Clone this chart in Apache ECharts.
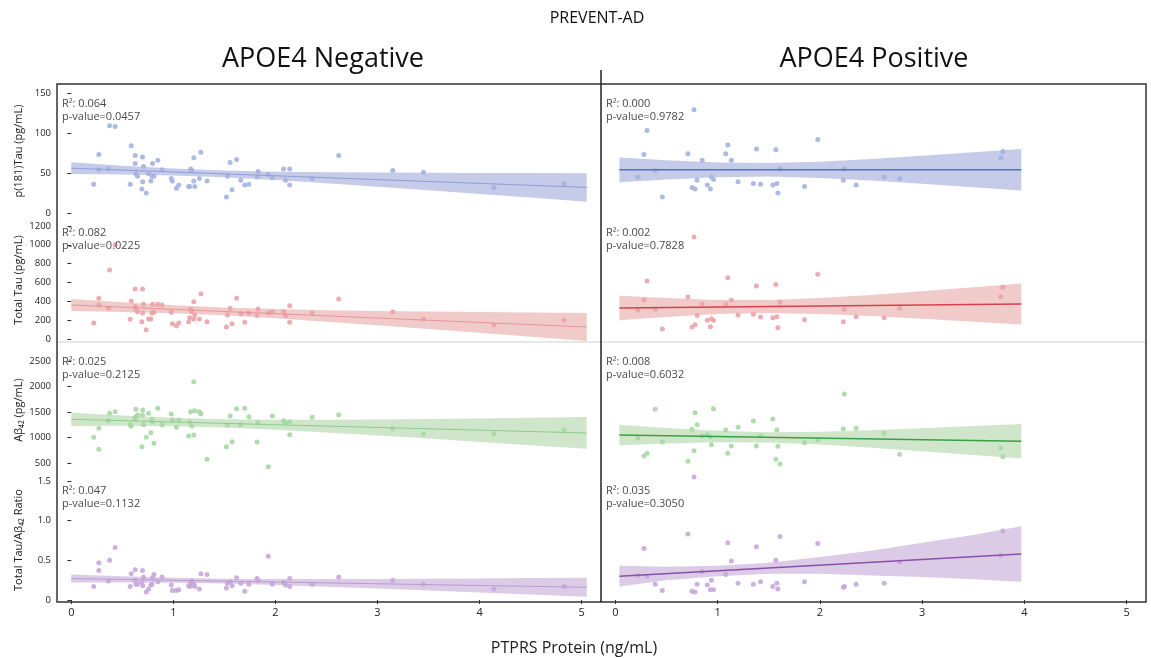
<!DOCTYPE html>
<html>
<head>
<meta charset="utf-8">
<script src="https://cdn.jsdelivr.net/npm/echarts@6.0.0/dist/echarts.min.js"></script>
<style>
html,body{margin:0;padding:0;background:#fff;}
#chart{width:1151px;height:658px;}
</style>
</head>
<body>
<div id="chart"></div>
<script>
// ---------- DATA ----------
const rowNames = ['p(181)Tau (pg/mL)', 'Total Tau (pg/mL)', 'Aβ₄₂ (pg/mL)', 'Total Tau/Aβ₄₂ Ratio'];
const colTitles = ['APOE4 Negative', 'APOE4 Positive'];
const xTicks = [0, 1, 2, 3, 4, 5];
const yTicksPTau = [0, 50, 100, 150];
const yTicksTau = [0, 200, 400, 600, 800, 1000, 1200];
const yTicksAb = [500, 1000, 1500, 2000, 2500];
const yTicksRatio = [0, 0.5, 1.0, 1.5];

const r2Neg = ['0.064', '0.082', '0.025', '0.047'];
const pNeg = ['0.0457', '0.0225', '0.2125', '0.1132'];
const r2Pos = ['0.000', '0.002', '0.008', '0.035'];
const pPos = ['0.9782', '0.7828', '0.6032', '0.3050'];

// APOE4 negative subjects: PTPRS protein
const xNeg = [0.22, 0.27, 0.27, 0.365, 0.375, 0.43, 0.577, 0.587, 0.626, 0.626,
  0.633, 0.649, 0.692, 0.70, 0.698, 0.708, 0.734, 0.757, 0.78, 0.79,
  0.796, 0.81, 0.848, 0.89, 0.98, 0.99, 1.03, 1.053, 1.15, 1.16,
  1.17, 1.18, 1.20, 1.20, 1.21, 1.255, 1.27, 1.33, 1.52, 1.53,
  1.556, 1.575, 1.62, 1.66, 1.70, 1.74, 1.82, 1.83, 1.93, 1.97,
  2.08, 2.10, 2.14, 2.14, 2.36, 2.62, 3.15, 3.45, 4.14, 4.83];
const pTauNeg = [36, 73, 54, 55, 109, 108, 36, 84, 72, 62,
  49, 46, 30, 39, 70, 58, 25, 49, 40, 46,
  62, 46, 66, 54, 43, 40, 31, 35, 33, 33,
  55, 53, 69, 40, 33, 43, 76, 40, 20, 46,
  63, 29, 67, 41, 35, 36, 45, 52, 48, 44,
  55, 41, 55, 35, 43, 72, 53, 51, 32, 37];
const tauNeg = [170, 432, 361, 326, 732, 1000, 209, 403, 531, 343,
  308, 290, 184, 276, 531, 368, 99, 212, 212, 276,
  368, 283, 368, 361, 283, 163, 141, 170, 184, 226,
  318, 290, 396, 212, 255, 212, 481, 184, 127, 255,
  326, 163, 432, 268, 177, 276, 248, 318, 276, 290,
  290, 248, 354, 177, 276, 425, 290, 212, 149, 198];
const abNeg = [1008, 1183, 773, 1332, 1477, 1508, 1254, 1230, 1398, 1359,
  1555, 1443, 824, 1541, 1443, 1254, 1008, 1477, 1098, 1359,
  1313, 891, 1574, 1248, 1463, 1346, 1203, 1346, 1033, 1307,
  1508, 1229, 2094, 1053, 1527, 1508, 1463, 578, 824, 1242,
  1424, 922, 1566, 1254, 1574, 1410, 916, 1293, 434, 1424,
  1332, 1293, 1313, 1059, 1398, 1449, 1176, 1072, 1078, 1156];
const ratioNeg = [0.17, 0.37, 0.47, 0.24, 0.50, 0.66, 0.17, 0.33, 0.38, 0.25,
  0.20, 0.20, 0.22, 0.18, 0.37, 0.29, 0.10, 0.14, 0.19, 0.20,
  0.28, 0.32, 0.23, 0.29, 0.19, 0.12, 0.12, 0.13, 0.18, 0.17,
  0.21, 0.24, 0.19, 0.20, 0.17, 0.14, 0.33, 0.32, 0.15, 0.21,
  0.23, 0.18, 0.28, 0.21, 0.11, 0.20, 0.27, 0.25, 0.55, 0.20,
  0.22, 0.19, 0.27, 0.17, 0.20, 0.29, 0.25, 0.20, 0.14, 0.17];

// APOE4 positive subjects
const xPos = [0.22, 0.28, 0.31, 0.39, 0.46, 0.71, 0.75, 0.77, 0.78, 0.80,
  0.85, 0.90, 0.93, 0.94, 0.96, 1.08, 1.10, 1.135, 1.20, 1.35,
  1.38, 1.42, 1.54, 1.57, 1.58, 1.59, 1.61, 1.85, 1.98, 2.23,
  2.24, 2.355, 2.63, 2.78, 3.77, 3.79];
const pTauPos = [45, 73, 103, 53, 20, 74, 32, 129, 30, 41,
  66, 35, 30, 45, 42, 74, 85, 66, 39, 37,
  80, 36, 35, 79, 37, 25, 55, 33, 92, 41,
  55, 35, 45, 43, 69, 77];
const tauPos = [308, 417, 616, 315, 106, 446, 127, 1083, 152, 248,
  368, 198, 131, 216, 198, 368, 651, 411, 255, 262,
  563, 234, 226, 577, 237, 120, 389, 205, 686, 184,
  315, 237, 226, 326, 449, 549];
const abPos = [994, 643, 695, 1555, 916, 539, 1164, 746, 1488, 1254,
  1033, 1059, 1020, 863, 1566, 1150, 695, 838, 1203, 1326,
  838, 1039, 1365, 578, 1150, 832, 486, 902, 961, 1176,
  1853, 1183, 1092, 676, 805, 629];
const ratioPos = [0.31, 0.65, 0.30, 0.20, 0.12, 0.83, 0.11, 1.55, 0.10, 0.20,
  0.36, 0.19, 0.13, 0.25, 0.13, 0.32, 0.72, 0.49, 0.21, 0.20,
  0.67, 0.23, 0.17, 0.50, 0.21, 0.14, 0.80, 0.23, 0.71, 0.16,
  0.17, 0.20, 0.21, 0.48, 0.56, 0.87];

// regression fit lines (endpoints) and confidence bands
const fitXNeg = [0, 5.05];
const fitXPos = [0.04, 3.97];
const pTauNegFit = [56, 32];
const tauNegFit = [361, 127];
const abNegFit = [1359, 1092];
const ratioNegFit = [0.27, 0.16];
const pTauPosFit = [54, 54];
const tauPosFit = [329, 371];
const abPosFit = [1053, 930];
const ratioPosFit = [0.30, 0.58];

const bandXNeg = [0, 0.5, 1, 1.5, 2, 2.5, 3, 3.5, 4, 4.5, 5.05];
const pTauNegHi = [63.3, 59.1, 55.6, 53.1, 51.7, 51.0, 50.6, 50.3, 50.1, 49.9, 49.8];
const pTauNegLo = [48.8, 48.1, 46.9, 44.7, 41.3, 37.2, 32.9, 28.5, 23.9, 19.3, 14.2];
const tauNegHi = [425, 389, 357, 333, 317, 306, 298, 292, 287, 282, 276];
const tauNegLo = [297, 287, 273, 251, 220, 184, 146, 106, 65, 25, -21];
const abNegHi = [1489, 1434, 1388, 1360, 1349, 1351, 1357, 1367, 1377, 1389, 1402];
const abNegLo = [1229, 1232, 1224, 1200, 1157, 1103, 1043, 982, 917, 853, 782];
const ratioNegHi = [0.32, 0.298, 0.279, 0.267, 0.263, 0.263, 0.265, 0.268, 0.272, 0.276, 0.28];
const ratioNegLo = [0.22, 0.22, 0.217, 0.207, 0.189, 0.168, 0.145, 0.12, 0.094, 0.068, 0.04];

const bandXPos = [0.04, 0.5, 1, 1.5, 2, 2.5, 3, 3.5, 3.97];
const pTauPosHi = [69.5, 66, 63.2, 62.4, 64.2, 67.5, 71.5, 75.8, 80];
const pTauPosLo = [38.5, 42, 44.8, 45.6, 43.8, 40.5, 36.5, 32.2, 28];
const tauPosHi = [458, 434, 415, 414, 434, 467, 507, 548, 588];
const tauPosLo = [200, 234, 264, 276, 266, 244, 215, 184, 153];
const abPosHi = [1252, 1191, 1136, 1108, 1118, 1147, 1185, 1228, 1269];
const abPosLo = [855, 888, 911, 906, 866, 805, 735, 662, 592];
const ratioPosHi = [0.43, 0.42, 0.43, 0.47, 0.54, 0.62, 0.72, 0.82, 0.93];
const ratioPosLo = [0.17, 0.25, 0.30, 0.33, 0.33, 0.31, 0.29, 0.26, 0.23];

// ---------- LAYOUT / STYLE ----------
const FONT = '"Open Sans", "Noto Sans", sans-serif';
const cols = [{left: 57, width: 544}, {left: 601, width: 545}];
const rows = [
  {top: 84, height: 134, min: -6.25, max: 161.25, ticks: yTicksPTau},
  {top: 218, height: 124, min: -32, max: 1284, ticks: yTicksTau},
  {top: 342, height: 136, min: 213, max: 2869, ticks: yTicksAb},
  {top: 478, height: 124, min: -0.025, max: 1.536, ticks: yTicksRatio}
];
const X_MIN = -0.14, X_MAX = 5.19;
const palette = [
  {pt: '#a4b3e0', band: 'rgba(140,152,210,0.5)', lineNeg: '#8d9fd6', linePos: '#5870be'},
  {pt: '#eba3aa', band: 'rgba(225,140,135,0.45)', lineNeg: '#e6959d', linePos: '#d6404d'},
  {pt: '#a6d7a4', band: 'rgba(150,200,140,0.45)', lineNeg: '#8dcb8d', linePos: '#38a144'},
  {pt: '#c8a8d8', band: 'rgba(175,140,200,0.45)', lineNeg: '#b99bd0', linePos: '#8a4fa9'}
];

const panelData = [
  [ {x: xNeg, y: pTauNeg, fx: fitXNeg, fy: pTauNegFit, bx: bandXNeg, hi: pTauNegHi, lo: pTauNegLo},
    {x: xPos, y: pTauPos, fx: fitXPos, fy: pTauPosFit, bx: bandXPos, hi: pTauPosHi, lo: pTauPosLo} ],
  [ {x: xNeg, y: tauNeg, fx: fitXNeg, fy: tauNegFit, bx: bandXNeg, hi: tauNegHi, lo: tauNegLo},
    {x: xPos, y: tauPos, fx: fitXPos, fy: tauPosFit, bx: bandXPos, hi: tauPosHi, lo: tauPosLo} ],
  [ {x: xNeg, y: abNeg, fx: fitXNeg, fy: abNegFit, bx: bandXNeg, hi: abNegHi, lo: abNegLo},
    {x: xPos, y: abPos, fx: fitXPos, fy: abPosFit, bx: bandXPos, hi: abPosHi, lo: abPosLo} ],
  [ {x: xNeg, y: ratioNeg, fx: fitXNeg, fy: ratioNegFit, bx: bandXNeg, hi: ratioNegHi, lo: ratioNegLo},
    {x: xPos, y: ratioPos, fx: fitXPos, fy: ratioPosFit, bx: bandXPos, hi: ratioPosHi, lo: ratioPosLo} ]
];
const statY = [[104, 117], [233, 246], [362, 375], [491, 504]];

const grids = [], xAxes = [], yAxes = [], series = [], graphics = [];

rows.forEach((r, ri) => {
  cols.forEach((c, ci) => {
    const gi = grids.length;
    grids.push({left: c.left, top: r.top, width: c.width, height: r.height});
    const isBottom = ri === rows.length - 1;
    xAxes.push({
      type: 'value', gridIndex: gi, min: X_MIN, max: X_MAX,
      axisLine: {show: false}, splitLine: {show: false},
      axisTick: {show: isBottom, customValues: xTicks, length: 4, lineStyle: {color: '#333'}},
      axisLabel: {show: isBottom, customValues: xTicks, color: '#222', fontSize: 11, fontFamily: FONT, margin: 5}
    });
    const isLeft = ci === 0;
    yAxes.push({
      type: 'value', gridIndex: gi, min: r.min, max: r.max,
      name: isLeft ? rowNames[ri] : '', nameLocation: 'middle', nameGap: 33,
      nameTextStyle: {color: '#222', fontSize: 11, fontFamily: FONT},
      axisLine: {show: false}, splitLine: {show: false},
      axisTick: {show: isLeft, customValues: r.ticks, length: 4, lineStyle: {color: '#333'}},
      axisLabel: {show: isLeft, customValues: r.ticks, color: '#222', fontSize: 9.5, fontFamily: FONT, margin: 6,
        formatter: v => (ri === 3 && v !== 0) ? v.toFixed(1) : String(v)}
    });
    const d = panelData[ri][ci];
    const col = palette[ri];
    const bandData = d.bx.map((x, i) => [x, d.lo[i], d.hi[i]]);
    series.push({
      type: 'custom', xAxisIndex: gi, yAxisIndex: gi, z: 1, silent: true,
      data: bandData, encode: {x: 0, y: [1, 2]},
      renderItem: function (params, api) {
        if (params.dataIndex !== 0) return null;
        const pts = [];
        for (let i = 0; i < d.bx.length; i++) pts.push(api.coord([d.bx[i], d.hi[i]]));
        for (let i = d.bx.length - 1; i >= 0; i--) pts.push(api.coord([d.bx[i], d.lo[i]]));
        return {type: 'polygon', shape: {points: pts}, style: {fill: col.band}};
      }
    });
    series.push({
      type: 'scatter', xAxisIndex: gi, yAxisIndex: gi, z: 2, clip: false, silent: true,
      symbolSize: 5, itemStyle: {color: col.pt, opacity: 0.9},
      data: d.x.map((x, i) => [x, d.y[i]])
    });
    series.push({
      type: 'line', xAxisIndex: gi, yAxisIndex: gi, z: 3, silent: true, symbol: 'none',
      lineStyle: {color: isLeft ? col.lineNeg : col.linePos, width: isLeft ? 1 : 1.5},
      data: d.fx.map((x, i) => [x, d.fy[i]])
    });
    const r2 = isLeft ? r2Neg[ri] : r2Pos[ri];
    const pv = isLeft ? pNeg[ri] : pPos[ri];
    const tx = c.left + 5;
    graphics.push({type: 'text', x: tx, y: statY[ri][0], z: 10,
      style: {text: 'R²: ' + r2, fill: '#4a4a4a', font: '11px ' + FONT, verticalAlign: 'middle'}});
    graphics.push({type: 'text', x: tx, y: statY[ri][1], z: 10,
      style: {text: 'p-value=' + pv, fill: '#4a4a4a', font: '11px ' + FONT, verticalAlign: 'middle'}});
  });
});

// frame, dividers, titles
graphics.push({type: 'line', z: 5, shape: {x1: 57, y1: 342, x2: 1146, y2: 342}, style: {stroke: '#d0d0d0', lineWidth: 1}});
graphics.push({type: 'rect', z: 6, shape: {x: 57, y: 84, width: 1089, height: 518}, style: {fill: null, stroke: '#333', lineWidth: 1.5}});
graphics.push({type: 'line', z: 6, shape: {x1: 601, y1: 70, x2: 601, y2: 602}, style: {stroke: '#222', lineWidth: 1.5}});
graphics.push({type: 'text', x: 597, y: 18, style: {text: 'PREVENT-AD', fill: '#111', font: '16px ' + FONT, align: 'center', verticalAlign: 'middle'}});
graphics.push({type: 'text', x: 323, y: 59, style: {text: colTitles[0], fill: '#111', font: '27px ' + FONT, align: 'center', verticalAlign: 'middle'}});
graphics.push({type: 'text', x: 874, y: 59, style: {text: colTitles[1], fill: '#111', font: '27px ' + FONT, align: 'center', verticalAlign: 'middle'}});
graphics.push({type: 'text', x: 574, y: 648, style: {text: 'PTPRS Protein (ng/mL)', fill: '#222', font: '16px ' + FONT, align: 'center', verticalAlign: 'middle'}});

const chart = echarts.init(document.getElementById('chart'), null, {renderer: 'canvas'});
chart.setOption({
  animation: false,
  backgroundColor: '#fff',
  grid: grids, xAxis: xAxes, yAxis: yAxes, series: series,
  graphic: graphics
});
</script>
</body>
</html>
